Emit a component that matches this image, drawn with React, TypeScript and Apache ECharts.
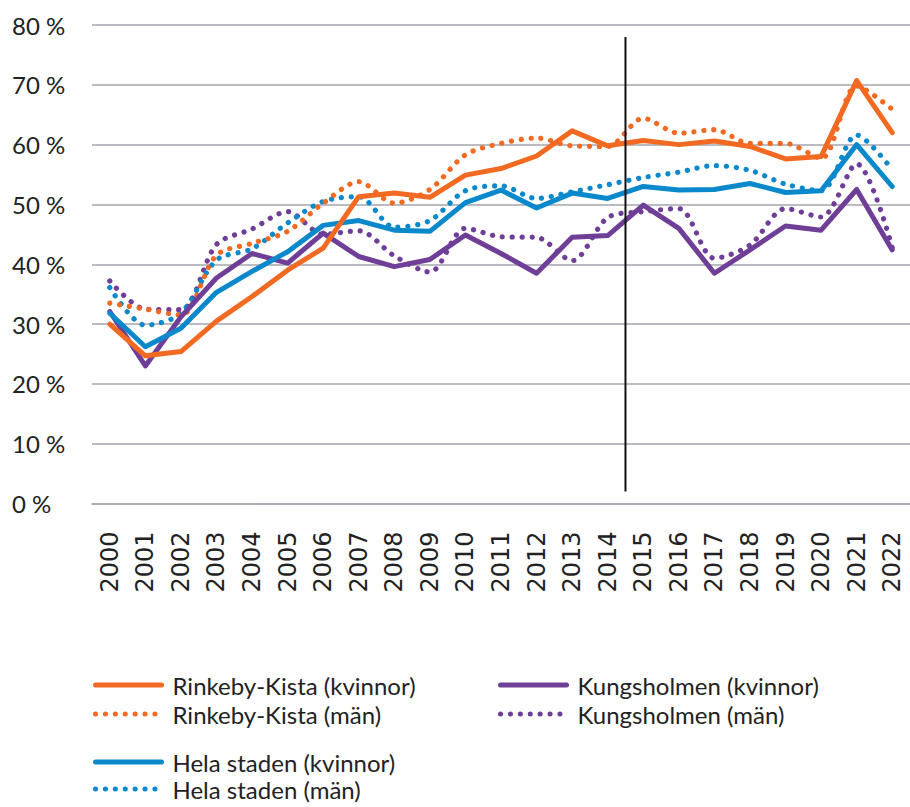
import React, { useEffect, useRef } from "react";
import * as echarts from "echarts";

const years = ["2000","2001","2002","2003","2004","2005","2006","2007","2008","2009","2010","2011","2012","2013","2014","2015","2016","2017","2018","2019","2020","2021","2022"];

const rinkebyKvinnor = [30, 24.7, 25.4, 30.5, 34.6, 39, 42.7, 51.3, 51.9, 51.2, 54.9, 56, 58.1, 62.3, 59.8, 60.7, 60, 60.6, 59.7, 57.6, 58, 70.7, 62];
const rinkebyMan = [33.5, 32.5, 31.5, 41.5, 43.5, 45.5, 50.2, 53.8, 50.2, 52.5, 58.3, 60.2, 61.1, 59.8, 59.7, 64.4, 61.9, 62.5, 60.2, 60.2, 57.7, 69.8, 65.9];
const kungsholmenKvinnor = [32.1, 23, 31.2, 37.7, 41.8, 40.2, 45.2, 41.3, 39.6, 40.8, 44.9, 41.8, 38.5, 44.5, 44.8, 49.9, 46, 38.5, 42.4, 46.4, 45.7, 52.5, 42.4];
const kungsholmenMan = [37.2, 32.5, 32.4, 43.3, 45.9, 48.8, 45, 45.6, 41.4, 38.7, 46, 44.6, 44.5, 40.6, 47.8, 48.8, 49.3, 41, 43.2, 49.3, 47.9, 56.8, 42.8];
const helaKvinnor = [31.8, 26.2, 29.3, 35.3, 38.8, 42.1, 46.5, 47.3, 45.7, 45.5, 50.3, 52.4, 49.4, 51.9, 51.0, 53, 52.4, 52.5, 53.5, 52, 52.3, 60, 53];
const helaMan = [36.1, 29.8, 31.8, 40.7, 42.6, 46.9, 50.5, 51.3, 46.2, 47.3, 52.3, 53.1, 51, 52.1, 53.3, 54.5, 55.4, 56.5, 55.7, 53.4, 52.3, 61.6, 55.8];

const yTicks = { min: 0, max: 80, interval: 10 };
const markerBetween = ["2014", "2015"];
const markerRange = [2, 78];

const ORANGE = "#F26A21";
const PURPLE = "#6F3E97";
const BLUE = "#0A88CC";
const GRID = "#A4A6AC";
const TEXT = "#222222";
const FONT = "Lato, 'Noto Sans', sans-serif";
const DOTS = [0.1, 9.8];

function solid(name: string, data: number[], color: string) {
  return {
    name, type: "line", data, symbol: "none", smooth: false,
    lineStyle: { color, width: 5, cap: "round", join: "round" },
    itemStyle: { color },
  };
}
function dotted(name: string, data: number[], color: string) {
  return {
    name, type: "line", data, symbol: "none", smooth: 0.3,
    lineStyle: { color, width: 5.2, type: DOTS, cap: "round" },
    itemStyle: { color },
  };
}

const legendBase = {
  orient: "vertical",
  itemWidth: 66,
  itemHeight: 12,
  itemGap: 5,
  padding: 0,
  height: 120,
  itemStyle: { opacity: 0 },
  textStyle: { color: TEXT, fontSize: 24, fontFamily: FONT, padding: [0, 0, 0, 6] },
  selectedMode: false,
};

function legendItem(name: string, dottedLine: boolean) {
  return {
    name,
    lineStyle: dottedLine
      ? { width: 5, type: DOTS, cap: "round" }
      : { width: 5, type: "solid", cap: "round" },
  };
}

export default function App() {
  const ref = useRef<HTMLDivElement>(null);
  useEffect(() => {
    document.body.style.margin = "0";
    if (!ref.current) return;
    const chart = echarts.init(ref.current, null, { renderer: "svg" });
    chart.setOption({
      animation: false,
      backgroundColor: "#ffffff",
      grid: { left: 92, right: -8, top: 25, bottom: 303.5, containLabel: false },
      xAxis: {
        type: "category",
        data: years,
        boundaryGap: true,
        axisLine: { show: true, lineStyle: { color: GRID, width: 1.5 } },
        axisTick: { show: false },
        axisLabel: { rotate: 90, margin: 28, color: TEXT, fontSize: 24, fontFamily: "'DejaVu Sans', sans-serif", interval: 0 },
      },
      yAxis: {
        type: "value",
        min: yTicks.min, max: yTicks.max, interval: yTicks.interval,
        axisLine: { show: false },
        axisTick: { show: false },
        splitLine: { lineStyle: { color: GRID, width: 1.5 } },
        axisLabel: { formatter: "{value} %", align: "left", margin: 80, color: TEXT, fontSize: 24, fontFamily: FONT },
      },
      legend: [
        { ...legendBase, left: 93, top: 673, data: [legendItem("Rinkeby-Kista (kvinnor)", false), legendItem("Rinkeby-Kista (män)", true)] },
        { ...legendBase, left: 498, top: 673, data: [legendItem("Kungsholmen (kvinnor)", false), legendItem("Kungsholmen (män)", true)] },
        { ...legendBase, left: 93, top: 750, itemGap: 3, data: [legendItem("Hela staden (kvinnor)", false), legendItem("Hela staden (män)", true)] },
      ],
      series: [
        dotted("Kungsholmen (män)", kungsholmenMan, PURPLE),
        dotted("Hela staden (män)", helaMan, BLUE),
        dotted("Rinkeby-Kista (män)", rinkebyMan, ORANGE),
        solid("Kungsholmen (kvinnor)", kungsholmenKvinnor, PURPLE),
        solid("Hela staden (kvinnor)", helaKvinnor, BLUE),
        solid("Rinkeby-Kista (kvinnor)", rinkebyKvinnor, ORANGE),
      ],
    });
    const xa = chart.convertToPixel({ xAxisIndex: 0 }, markerBetween[0]) as number;
    const xb = chart.convertToPixel({ xAxisIndex: 0 }, markerBetween[1]) as number;
    const y1 = chart.convertToPixel({ yAxisIndex: 0 }, markerRange[0]) as number;
    const y2 = chart.convertToPixel({ yAxisIndex: 0 }, markerRange[1]) as number;
    const xm = (xa + xb) / 2;
    chart.setOption({
      graphic: [
        { type: "line", shape: { x1: xm, y1: y1, x2: xm, y2: y2 }, style: { stroke: "#111111", lineWidth: 2 }, z: 100 },
      ],
    });
    return () => chart.dispose();
  }, []);
  return <div ref={ref} style={{ width: 910, height: 807 }} />;
}
